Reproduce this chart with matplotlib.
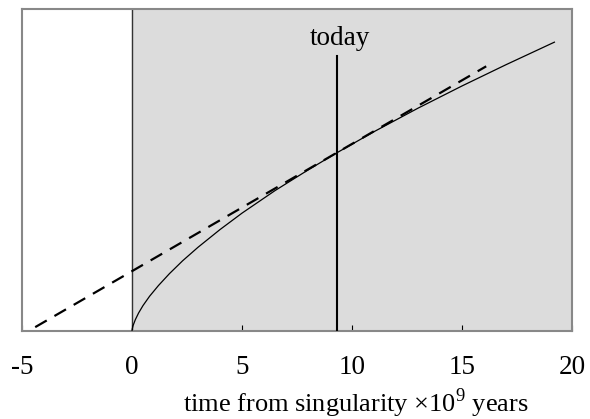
import numpy as np
import matplotlib.pyplot as plt

plt.rcParams['font.family'] = ['Liberation Serif', 'DejaVu Serif']
plt.rcParams['mathtext.fontset'] = 'custom'
plt.rcParams['mathtext.rm'] = 'Liberation Serif'

# solid curve: size of universe vs time
t_curve = [0, 0.01, 0.02, 0.05, 0.15, 0.3, 0.5, 0.8, 1.2, 1.7, 2.3, 3, 4, 5, 6.5, 8, 9.3, 11, 13, 15, 17, 19.2]
size_curve = [0, 0.006, 0.009, 0.017, 0.035, 0.056, 0.079, 0.108, 0.141, 0.178, 0.218, 0.260,
              0.315, 0.366, 0.436, 0.500, 0.553, 0.619, 0.692, 0.761, 0.827, 0.897]

# dashed tangent line (constant expansion rate)
t_dash = [-4.4, 16.1]
size_dash = [0.012, 0.822]

today = 9.3
xticks = [-5, 0, 5, 10, 15, 20]

fig = plt.figure(figsize=(5.9, 4.19), dpi=100)
ax = fig.add_axes([22/590, 88/419, 550/590, 322/419])

ax.axvspan(0, 20, color='#dcdcdc', zorder=0)
ax.axvline(0, color='#333333', lw=1.0, zorder=1)
ax.plot(t_curve, size_curve, color='black', lw=0.9, zorder=3)
ax.plot(t_dash, size_dash, color='black', lw=1.6, dashes=(6, 4), zorder=3)
ax.plot([today, today], [0, 0.855], color='black', lw=1.5, zorder=3)
ax.text(today + 0.15, 0.87, 'today', ha='center', va='bottom', fontsize=19.5)

ax.set_xlim(-5, 20)
ax.set_ylim(0, 1)
ax.set_xticks(xticks)
ax.set_xticklabels([str(v) for v in xticks])
ax.set_yticks([])
ax.tick_params(axis='x', direction='in', length=4, width=0.8, pad=17, labelsize=19.5)
for s in ax.spines.values():
    s.set_color('#888888')
    s.set_linewidth(1.5)

ax.set_xlabel(r'time from singularity $\times$10$^9$ years', fontsize=19)
ax.xaxis.set_label_coords(0.607, -0.172)

fig.savefig('out.png', dpi=100)
